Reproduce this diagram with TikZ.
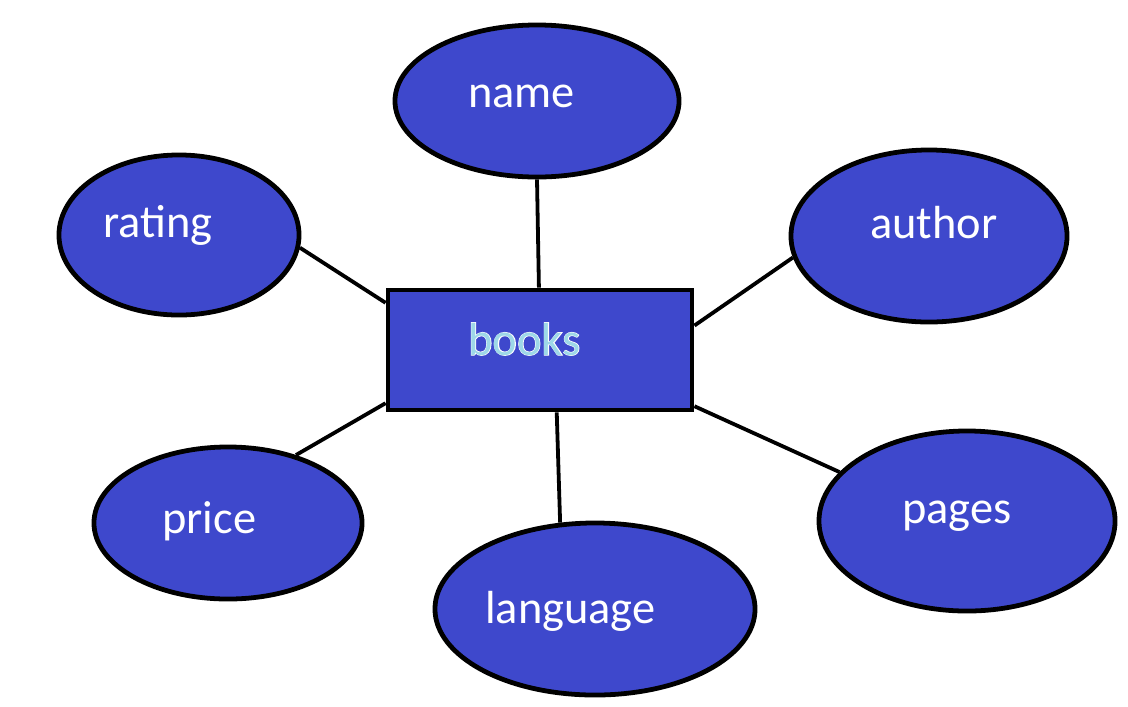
\documentclass[tikz,border=0pt]{standalone}
\usepackage{fontspec}
\setmainfont{Carlito}
\newfontfamily\bookfont[FakeBold=2.6]{Carlito}
\usepackage{tikz}
\usetikzlibrary{shapes.geometric,positioning}
\definecolor{attrblue}{RGB}{62,72,204}
\definecolor{booktext}{RGB}{158,216,232}

\begin{document}
\begin{tikzpicture}[x=0.025cm,y=-0.025cm]

% --- STYLES ---
\tikzset{
  attr/.style={ellipse, draw=black, fill=attrblue, line width=3.4pt, inner sep=0pt},
  entity/.style={rectangle, draw=black, fill=attrblue, line width=3.4pt, inner sep=0pt,
                 minimum width=7.6cm, minimum height=3cm},
  attrtext/.style={anchor=base west, inner sep=0pt, text=white,
                   font=\fontsize{33}{40}\selectfont},
  link/.style={black, line width=2.7pt},
}

\useasboundingbox (0,0) rectangle (1128,706);

% ================= ENTITY =================
\node[entity] (books) at (540,350) {};
\node[attrtext, font=\bookfont\fontsize{33}{40}\selectfont] (books-o) at (468,355) {books};
\node[attrtext, text=booktext] (books-t) at (468,355) {books};

% ================= ATTRIBUTES =================
\node[attr, minimum width=7.1cm, minimum height=3.8cm] (name)     at (537,101) {};
\node[attr, minimum width=6cm,   minimum height=4cm]   (rating)   at (179,235) {};
\node[attr, minimum width=6.9cm, minimum height=4.3cm] (author)   at (929,236) {};
\node[attr, minimum width=6.7cm, minimum height=3.8cm] (price)    at (228,523) {};
\node[attr, minimum width=8cm,   minimum height=4.3cm] (language) at (595,609) {};
\node[attr, minimum width=7.4cm, minimum height=4.5cm] (pages)    at (967,521) {};

% ================= LABELS =================
\node[attrtext] (name-t)     at (468,107) {name};
\node[attrtext] (rating-t)   at (103,237) {rating};
\node[attrtext] (author-t)   at (870,238) {author};
\node[attrtext] (price-t)    at (162,533) {price};
\node[attrtext] (language-t) at (485,623) {language};
\node[attrtext] (pages-t)    at (902,523) {pages};

% ================= CONNECTORS =================
\foreach \a/\from/\to in {
    name/270/91, rating/-6/163, author/189/9,
    price/45/199, language/112/-75, pages/159/-20
} {
    \draw[link] (\a.\from) -- (books.\to);
}

\end{tikzpicture}
\end{document}
